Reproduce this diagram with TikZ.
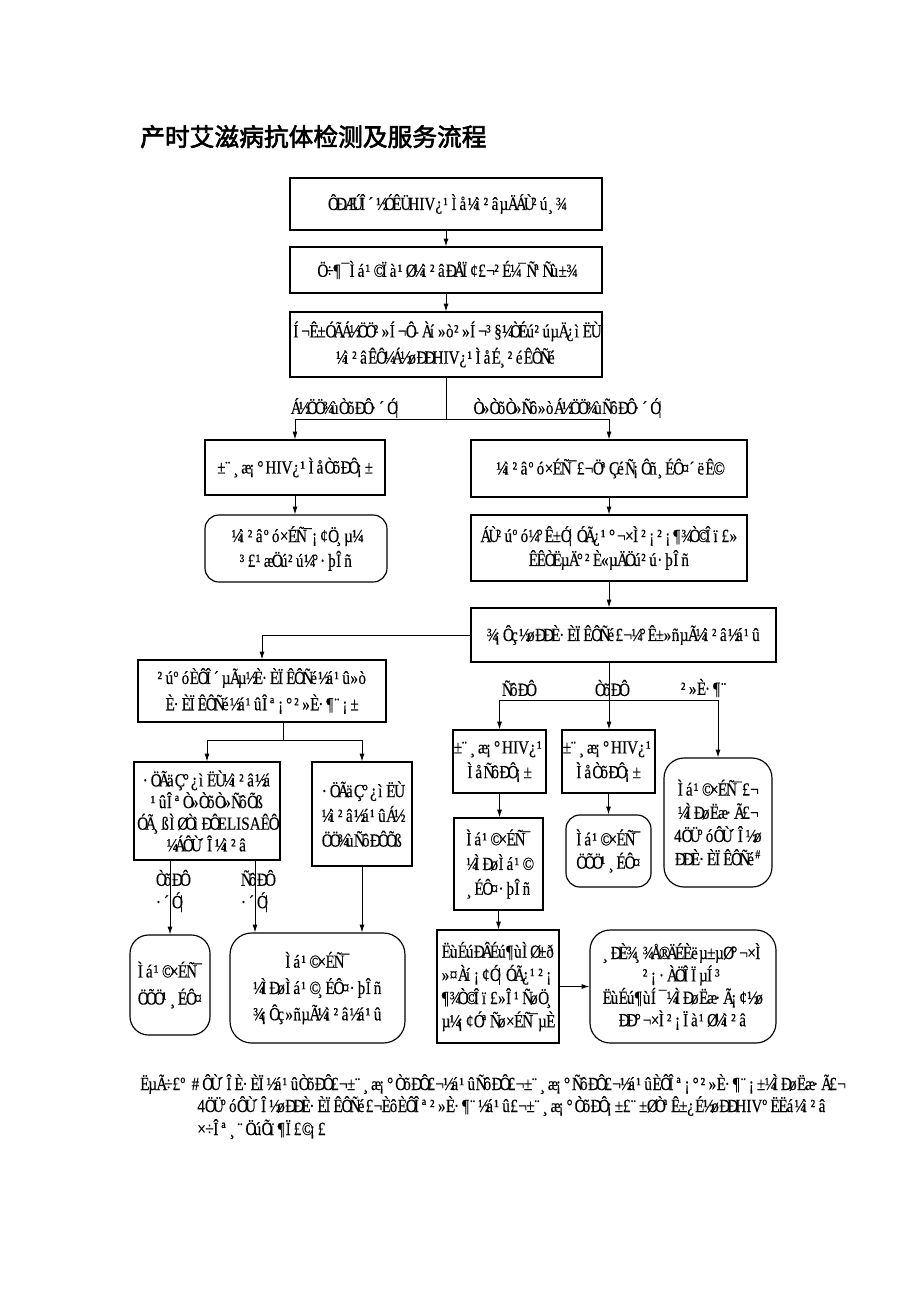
\documentclass[tikz,border=0pt]{standalone}
\usepackage{fontspec}
\setmainfont{Liberation Serif}[FakeBold=0.3,FakeStretch=0.82]
\newfontfamily\cjk{Noto Sans CJK SC}[FakeBold=2.5]
\usetikzlibrary{arrows.meta}
\makeatletter
\newlength\mjw
\setlength\mjw{5.2pt}
\newcommand\mj[1]{\@tfor\mj@c:=#1\do{\makebox[\mjw][l]{\mj@c}}}
\makeatother
\newcommand\fs[1]{\fontsize{12}{#1}\selectfont}
\newcommand\bx[7][bx]{\node[#1, minimum width={(#5-#3)*0.647pt}, minimum height={(#6-#4)*0.647pt}] (#2) at ({(#3+#5)/2},{(#4+#6)/2}) {#7};}
\begin{document}
\begin{tikzpicture}[x=0.647pt,y=-0.647pt,
  bx/.style={draw, line width=0.75pt, align=center, inner sep=0.5pt, font=\fs{15.5}},
  rbx/.style={bx, rounded corners=9pt},
  arr/.style={-{Latex[length=5pt,width=3.2pt]}, line width=0.6pt},
  ln/.style={line width=0.6pt},
  lbl/.style={inner sep=0pt, align=center, font=\fs{14.5}}]
\useasboundingbox (0,0) rectangle (920,1302);
\fill[white] (0,0) rectangle (920,1302);
% title
\node[anchor=base west, inner sep=0pt, font=\fontsize{16}{19}\selectfont\cjk] (title) at (140,146) {产时艾滋病抗体检测及服务流程};
% boxes
\bx{b1}{290}{178}{602}{230}{\mj{ÔÐÆÚÎ´½ÓÊÜ}HIV\mj{¿¹Ìå¼ì²âµÄÁÙ²ú¸¾}}
\bx{b2}{290}{247}{602}{293}{\mj{Ö÷¶¯Ìá¹©Ïà¹Ø¼ì²âÐÅÏ¢£¬²É¼¯ÑªÑù±¾}}
\bx[bx,font=\fs{17}]{b3}{290}{312}{602}{377}{\mj{Í¬Ê±ÓÃÁ½ÖÖ²»Í¬Ô-Àí»ò²»Í¬³§¼ÒÉú²úµÄ¿ìËÙ}\\\mj{¼ì²âÊÔ¼Á½øÐÐ}HIV\mj{¿¹ÌåÉ¸²éÊÔÑé}}
\bx{bA}{205}{440}{385}{495}{\mj{±¨¸æ¡°}HIV\mj{¿¹ÌåÒõÐÔ¡±}}
\bx[rbx,font=\fs{16}]{bB}{205}{515}{387}{582}{\mj{¼ì²âºó×ÉÑ¯¡¢Ö¸µ¼}\\\mj{³£¹æÖú²ú¼°·þÎñ}}
\bx{bC}{471}{440}{747}{497}{\mj{¼ì²âºó×ÉÑ¯£¬ÖªÇéÑ¡Ôñ¸ÉÔ¤´ëÊ©}}
\bx{bD}{471}{515}{747}{581}{\mj{ÁÙ²úºó¼°Ê±Ó¦ÓÃ¿¹°¬×Ì²¡²¡¶¾Ò©Îï£»}\\\mj{ÊÊÒËµÄ°²È«µÄÖú²ú·þÎñ}}
\bx{bE}{471}{608}{776}{662}{\mj{¾¡Ôç½øÐÐÈ·ÈÏÊÔÑé£¬¼°Ê±»ñµÃ¼ì²â½á¹û}}
\bx[bx,font=\fs{17}]{bF}{138}{660}{386}{722}{\mj{²úºóÈÔÎ´µÃµ½È·ÈÏÊÔÑé½á¹û»ò}\\\mj{È·ÈÏÊÔÑé½á¹ûÎª¡°²»È·¶¨¡±}}
\bx[bx,font=\fs{16}]{bG}{454}{730}{545}{793}{\mj{±¨¸æ¡°}HIV\mj{¿¹}\\\mj{ÌåÑôÐÔ¡±}}
\bx[bx,font=\fs{16}]{bH}{566}{730}{651}{793}{\mj{±¨¸æ¡°}HIV\mj{¿¹}\\\mj{ÌåÒõÐÔ¡±}}
\bx[rbx,rounded corners=13pt,font=\fs{15}]{bI}{664}{758}{772}{887}{\mj{Ìá¹©×ÉÑ¯£¬}\\\mj{¼ÌÐøËæ·Ã£¬}\\4\mj{ÖÜºóÔÙ´Î½ø}\\\mj{ÐÐÈ·ÈÏÊÔÑé}\textsuperscript{\#}}
\bx[bx,font=\fs{16}]{bJ}{454}{818}{543}{910}{\mj{Ìá¹©×ÉÑ¯}\\\mj{¼ÌÐøÌá¹©}\\\mj{¸ÉÔ¤·þÎñ}}
\bx[rbx,font=\fs{15}]{bK}{566}{815}{651}{887}{\mj{Ìá¹©×ÉÑ¯}\\\mj{ÖÕÖ¹¸ÉÔ¤}}
\bx[bx,font=\fs{15}]{bL}{437}{930}{559}{1043}{\mj{ËùÉúÐÂÉú¶ùÌØ±ð}\\\mj{»¤Àí¡¢Ó¦ÓÃ¿¹²¡}\\\mj{¶¾Ò©Îï£»Î¹ÑøÖ¸}\\\mj{µ¼¡¢ÓªÑø×ÉÑ¯µÈ}}
\bx[rbx,rounded corners=13pt,font=\fs{14.5}]{bM}{590}{930}{776}{1043}{\mj{¸ÐÈ¾¸¾Å®ÄÉÈëµ±µØ°¬×Ì}\\\mj{²¡·ÀÖÎÏµÍ³}\\\mj{ËùÉú¶ùÍ¯¼ÌÐøËæ·Ã¡¢½ø}\\\mj{ÐÐ°¬×Ì²¡Ïà¹Ø¼ì²â}}
\bx[bx,font=\fs{14}]{bN}{134}{762}{280}{860}{\mj{·ÖÃäÇ°¿ìËÙ¼ì²â½á}\\\mj{¹ûÎªÒ»ÒõÒ»ÑôÕß}\\\mj{ÓÃ¸ßÌØÒìÐÔ}ELISA\mj{ÊÔ}\\\mj{¼ÁÔÙ´Î¼ì²â}}
\bx[bx,font=\fs{16}]{bO}{312}{762}{412}{866}{\mj{·ÖÃäÇ°¿ìËÙ}\\\mj{¼ì²â½á¹ûÁ½}\\\mj{ÖÖ¾ùÑôÐÔÕß}}
\bx[rbx,rounded corners=12pt,font=\fs{17.5}]{bP}{130}{935}{210}{1035}{\mj{Ìá¹©×ÉÑ¯}\\\mj{ÖÕÖ¹¸ÉÔ¤}}
\bx[rbx,rounded corners=14pt,font=\fs{17}]{bQ}{230}{933}{405}{1043}{\mj{Ìá¹©×ÉÑ¯}\\\mj{¼ÌÐøÌá¹©¸ÉÔ¤·þÎñ}\\\mj{¾¡Ôç»ñµÃ¼ì²â½á¹û}}
% connectors
\draw[arr] (b1.south) -- (b2.north);
\draw[arr] (b2.south) -- (b3.north);
\coordinate (s1) at (446,419);
\draw[ln] (b3.south) -- (s1);
\draw[arr] (s1) -| (bA.north);
\draw[arr] (s1) -| (bC.north);
\node[lbl] (l1) at (347,408) {\mj{Á½ÖÖ¾ùÒõÐÔ·´Ó¦}};
\node[lbl] (l2) at (570,408) {\mj{Ò»ÒõÒ»Ñô»òÁ½ÖÖ¾ùÑôÐÔ·´Ó¦}};
\draw[arr] (bA.south) -- (bA.south |- bB.north);
\draw[arr] (bC.south) -- (bD.north);
\draw[arr] (bD.south) -- (bD.south |- bE.north);
\draw[arr] (bE.west) -| (bF.north);
\coordinate (s2) at (609,700);
\draw[ln] (bE.south -| s2) -- (s2);
\draw[arr] (s2) -| (bG.north);
\draw[arr] (s2) -- (s2 |- bH.north);
\draw[arr] (s2) -| (bI.north);
\node[lbl] (l3) at (518,688) {\mj{ÑôÐÔ}};
\node[lbl] (l4) at (611,688) {\mj{ÒõÐÔ}};
\node[lbl] (l5) at (705,688) {\mj{²»È·¶¨}};
\draw[arr] (bG.south) -- (bG.south |- bJ.north);
\draw[arr] (bH.south) -- (bH.south |- bK.north);
\draw[arr] (bJ.south) -- (bJ.south |- bL.north);
\draw[arr] (bL.east) -- (bM.west);
\coordinate (s3) at (283,740);
\draw[ln] (bF.south -| s3) -- (s3);
\draw[arr] (s3) -| (bN.north);
\draw[arr] (s3) -| (bO.north);
\draw[arr] (bN.south -| bP.north) -- (bP.north);
\coordinate (nq) at (255,860);
\draw[arr] (nq) -- (nq |- bQ.north);
\draw[arr] (bO.south) -- (bO.south |- bQ.north);
\node[lbl] (l6) at (172,891) {\mj{ÒõÐÔ}\\\mj{·´Ó¦}};
\node[lbl] (l7) at (257,891) {\mj{ÑôÐÔ}\\\mj{·´Ó¦}};
% footnote
\node[anchor=base west, inner sep=0pt, font=\fs{15.5}] (fn1) at (140,1090) {\mj{ËµÃ÷£º}\,\#\,\mj{ÔÙ´ÎÈ·ÈÏ½á¹ûÒõÐÔ£¬±¨¸æ¡°ÒõÐÔ£¬½á¹ûÑôÐÔ£¬±¨¸æ¡°ÑôÐÔ£¬½á¹ûÈÔÎª¡°²»È·¶¨¡±¼ÌÐøËæ·Ã£¬}};
\node[anchor=base west, inner sep=0pt, font=\fs{15.5}] (fn2) at (197,1112) {4\mj{ÖÜºóÔÙ´Î½øÐÐÈ·ÈÏÊÔÑé£¬ÈôÈÔÎª²»È·¶¨½á¹û£¬±¨¸æ¡°ÒõÐÔ¡±£¨±ØÒªÊ±¿É½øÐÐ}HIV\mj{ºËËá¼ì²â}};
\node[anchor=base west, inner sep=0pt, font=\fs{15.5}] (fn3) at (197,1135) {\mj{×÷Îª¸¨ÖúÕï¶Ï£©¡£}};
\end{tikzpicture}
\end{document}
